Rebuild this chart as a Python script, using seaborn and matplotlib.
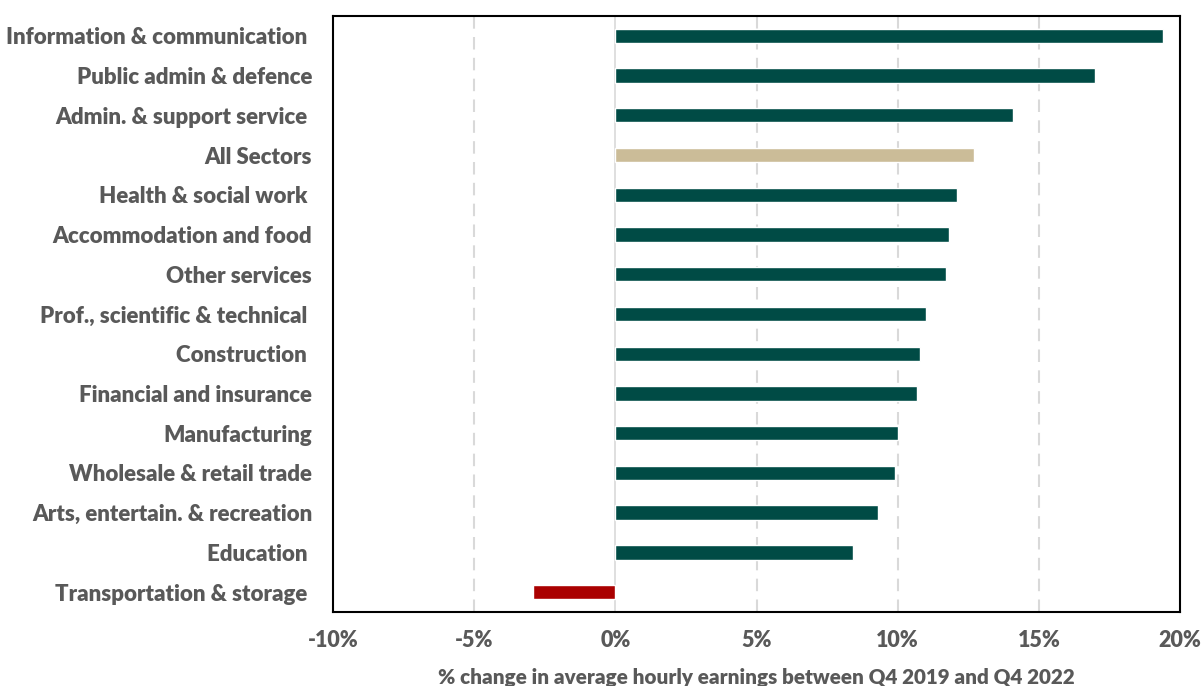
import matplotlib
matplotlib.use("Agg")
import matplotlib.pyplot as plt
import seaborn as sns
import pandas as pd
from matplotlib.ticker import FuncFormatter

sectors = [
    "Information & communication ",
    "Public admin & defence",
    "Admin. & support service ",
    "All Sectors",
    "Health & social work ",
    "Accommodation and food",
    "Other services",
    "Prof., scientific & technical ",
    "Construction ",
    "Financial and insurance",
    "Manufacturing",
    "Wholesale & retail trade",
    "Arts, entertain. & recreation",
    "Education ",
    "Transportation & storage ",
]
values = [19.4, 17.0, 14.1, 12.7, 12.1, 11.8, 11.7, 11.0, 10.8, 10.7, 10.0, 9.9, 9.3, 8.4, -2.9]
groups = ["sector"] * 3 + ["all"] + ["sector"] * 10 + ["negative"]
palette = {"sector": "#004B45", "all": "#CBBC98", "negative": "#AA0000"}
xticks = [-10, -5, 0, 5, 10, 15, 20]

df = pd.DataFrame({"sector": sectors, "value": values, "group": groups})

sns.set_theme(style="white")
plt.rcParams["font.family"] = ["Lato", "DejaVu Sans"]

fig = plt.figure(figsize=(12.03, 6.86), dpi=100)
ax = fig.add_axes([0.2768, 0.1079, 0.9809 - 0.2768, 0.9767 - 0.1079])

sns.barplot(data=df, y="sector", x="value", hue="group", palette=palette,
            orient="h", width=0.36, dodge=False, legend=False, saturation=1,
            ax=ax, zorder=3)

ax.set_xlim(-10, 20)
ax.set_ylim(14.5, -0.5)
ax.set_xticks(xticks)
ax.xaxis.set_major_formatter(FuncFormatter(lambda v, p: f"{v:.0f}%"))
for t in xticks:
    if t == 0:
        ax.axvline(t, color="#D9D9D9", lw=1.2, zorder=1)
    elif t not in (-10, 20):
        ax.axvline(t, color="#D9D9D9", lw=1.5, ls=(0, (6, 4)), zorder=1)

for s in ax.spines.values():
    s.set_visible(True)
    s.set_color("#000000")
    s.set_linewidth(1.5)

ax.tick_params(axis="x", length=0, pad=13, labelsize=15.5, labelcolor="#595959")
ax.tick_params(axis="y", length=0, pad=15, labelsize=16, labelcolor="#595959")
for lbl in ax.get_xticklabels() + ax.get_yticklabels():
    lbl.set_fontweight("heavy")
ax.set_ylabel("")
ax.set_xlabel("% change in average hourly earnings between Q4 2019 and Q4 2022",
              fontsize=14.9, fontweight="heavy", color="#595959", labelpad=12)

fig.savefig("out.png", dpi=100)
